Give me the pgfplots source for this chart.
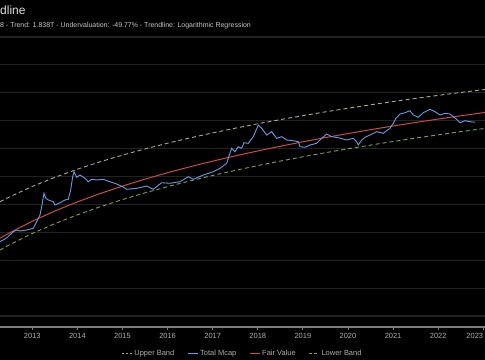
\documentclass[border=0pt]{standalone}
\usepackage{pgfplots}
\pgfplotsset{compat=1.18}
\usepackage{fontspec}
\setmainfont{Liberation Sans}
\definecolor{gridc}{RGB}{34,34,34}
\definecolor{axisc}{RGB}{125,125,125}
\definecolor{tickc}{RGB}{175,175,175}
\definecolor{titlec}{RGB}{225,225,225}
\definecolor{subc}{RGB}{200,200,200}
\definecolor{mcap}{RGB}{105,155,225}
\definecolor{fair}{RGB}{200,75,75}
\definecolor{upperc}{RGB}{165,172,140}
\definecolor{lowerc}{RGB}{125,160,90}
\begin{document}
\begin{tikzpicture}
\useasboundingbox (0,0) rectangle (485bp,360bp);
\fill[black] (0,0) rectangle (485bp,360bp);
\clip (0,0) rectangle (485bp,360bp);
\node[anchor=base west, inner sep=0, text=titlec] at (0bp,345bp) {\fontsize{12}{14}\selectfont dline};
\node[anchor=base west, inner sep=0, text=subc] at (0bp,332.7bp) {\fontsize{7}{8}\selectfont 8 - Trend: 1.838T - Undervaluation: -49.77\% - Trendline: Logarithmic Regression};
\begin{axis}[
  at={(0bp,33bp)}, anchor=south west, scale only axis,
  width=485bp, height=297bp,
  xmin=2012.284, xmax=2023.038, ymin=4.606, ymax=15.251,
  axis x line*=bottom, axis y line*=left,
  x axis line style={draw=axisc, line width=1.2bp},
  y axis line style={draw=none},
  xtick={2013,2014,2015,2016,2017,2018,2019,2020,2021,2022},
  xticklabels={2013,2014,2015,2016,2017,2018,2019,2020,2021,2022},
  extra x ticks={2023}, extra x tick labels={2023},
  extra x tick style={xticklabel style={anchor=north east, inner xsep=0pt}},
  xtick align=outside, major tick length=3bp,
  xtick style={draw=axisc, line width=0.8bp},
  ytick={5,6,7,8,9,10,11,12,13,14,15}, yticklabels={},
  ytick style={draw=none},
  ymajorgrids, xmajorgrids=false,
  major grid style={draw=gridc, line width=1.2bp},
  ticklabel style={font=\fontsize{7.5}{9}\selectfont, text=tickc},
  legend style={at={(0.5,-0.0892)}, anchor=center, draw=none, fill=none,
    text=tickc, font=\fontsize{7.5}{9}\selectfont, legend columns=4,
    inner sep=0pt,
    /tikz/every even column/.append style={column sep=11bp}},
  legend image code/.code={\draw[#1] (0bp,0bp) -- (10bp,0bp);},
  legend cell align=left,
]
\addplot[upperc, line width=0.9bp, dash pattern=on 4bp off 3bp, forget plot] coordinates {
(2012.284,9.097) (2012.5,9.274) (2013,9.644) (2013.5,9.970) (2014,10.262) (2014.5,10.526)
(2015,10.767) (2015.5,10.988) (2016,11.194) (2016.5,11.385) (2017,11.563) (2017.5,11.731)
(2018,11.890) (2018.5,12.039) (2019,12.182) (2019.5,12.317) (2020,12.446) (2020.5,12.569)
(2021,12.687) (2021.5,12.800) (2022,12.908) (2022.5,13.013) (2023.038,13.121)};
\addplot[lowerc, line width=0.9bp, dash pattern=on 4bp off 3bp, forget plot] coordinates {
(2012.284,7.366) (2012.5,7.557) (2013,7.958) (2013.5,8.311) (2014,8.627) (2014.5,8.913)
(2015,9.174) (2015.5,9.414) (2016,9.637) (2016.5,9.844) (2017,10.037) (2017.5,10.219)
(2018,10.391) (2018.5,10.553) (2019,10.707) (2019.5,10.853) (2020,10.993) (2020.5,11.126)
(2021,11.254) (2021.5,11.376) (2022,11.494) (2022.5,11.607) (2023.038,11.724)};
\addplot[fair, line width=1bp, forget plot] coordinates {
(2012.284,7.785) (2012.5,7.983) (2013,8.398) (2013.5,8.764) (2014,9.091) (2014.5,9.387)
(2015,9.657) (2015.5,9.906) (2016,10.136) (2016.5,10.350) (2017,10.551) (2017.5,10.739)
(2018,10.916) (2018.5,11.085) (2019,11.244) (2019.5,11.395) (2020,11.540) (2020.5,11.678)
(2021,11.810) (2021.5,11.937) (2022,12.059) (2022.5,12.176) (2023.038,12.297)};
\addplot[mcap, line width=0.9bp, forget plot] coordinates {
(2012.284,7.663) (2012.432,7.796) (2012.579,8.022) (2012.654,8.082) (2012.727,8.047)
(2012.876,8.082) (2013.022,8.143) (2013.098,8.380) (2013.171,8.620) (2013.208,8.918)
(2013.259,9.398) (2013.297,9.229) (2013.355,9.158) (2013.466,9.097) (2013.503,8.978)
(2013.614,9.061) (2013.725,9.158) (2013.798,9.183) (2013.851,9.516) (2013.896,9.993)
(2013.925,10.172) (2013.984,9.971) (2014.058,10.054) (2014.169,9.935) (2014.242,9.814)
(2014.317,9.900) (2014.428,9.875) (2014.574,9.900) (2014.723,9.814) (2014.871,9.731)
(2015.018,9.620) (2015.093,9.541) (2015.315,9.577) (2015.537,9.659) (2015.683,9.541)
(2015.869,9.778) (2016.053,9.756) (2016.275,9.814) (2016.459,9.993) (2016.570,9.900)
(2016.792,10.054) (2017.013,10.172) (2017.162,10.294) (2017.310,10.473) (2017.368,10.771)
(2017.421,11.011) (2017.494,10.889) (2017.568,11.068) (2017.643,11.011) (2017.694,11.211)
(2017.789,11.190) (2017.900,11.427) (2018.011,11.846) (2018.086,11.728) (2018.197,11.487)
(2018.308,11.606) (2018.419,11.369) (2018.530,11.427) (2018.641,11.308) (2018.787,11.283)
(2018.898,11.247) (2018.936,11.068) (2019.047,11.047) (2019.157,11.129) (2019.306,11.190)
(2019.417,11.369) (2019.528,11.523) (2019.639,11.427) (2019.785,11.391) (2019.971,11.308)
(2020.118,11.369) (2020.193,11.247) (2020.228,11.129) (2020.304,11.308) (2020.377,11.405)
(2020.488,11.487) (2020.636,11.606) (2020.783,11.548) (2020.931,11.728) (2021.004,11.907)
(2021.064,12.086) (2021.153,12.240) (2021.264,12.287) (2021.375,12.358) (2021.448,12.204)
(2021.559,12.122) (2021.670,12.287) (2021.818,12.409) (2021.929,12.323) (2022.040,12.204)
(2022.151,12.265) (2022.262,12.240) (2022.335,12.143) (2022.410,12.050) (2022.483,11.928)
(2022.594,12.000) (2022.705,11.964) (2022.816,11.943)};
\addlegendimage{upperc, line width=0.9bp, dash pattern=on 2.5bp off 1.5bp}
\addlegendentry{Upper Band}
\addlegendimage{mcap, line width=0.9bp}
\addlegendentry{Total Mcap}
\addlegendimage{fair, line width=0.9bp}
\addlegendentry{Fair Value}
\addlegendimage{lowerc, line width=0.9bp, dash pattern=on 3bp off 2bp}
\addlegendentry{Lower Band}
\end{axis}
\end{tikzpicture}
\end{document}
